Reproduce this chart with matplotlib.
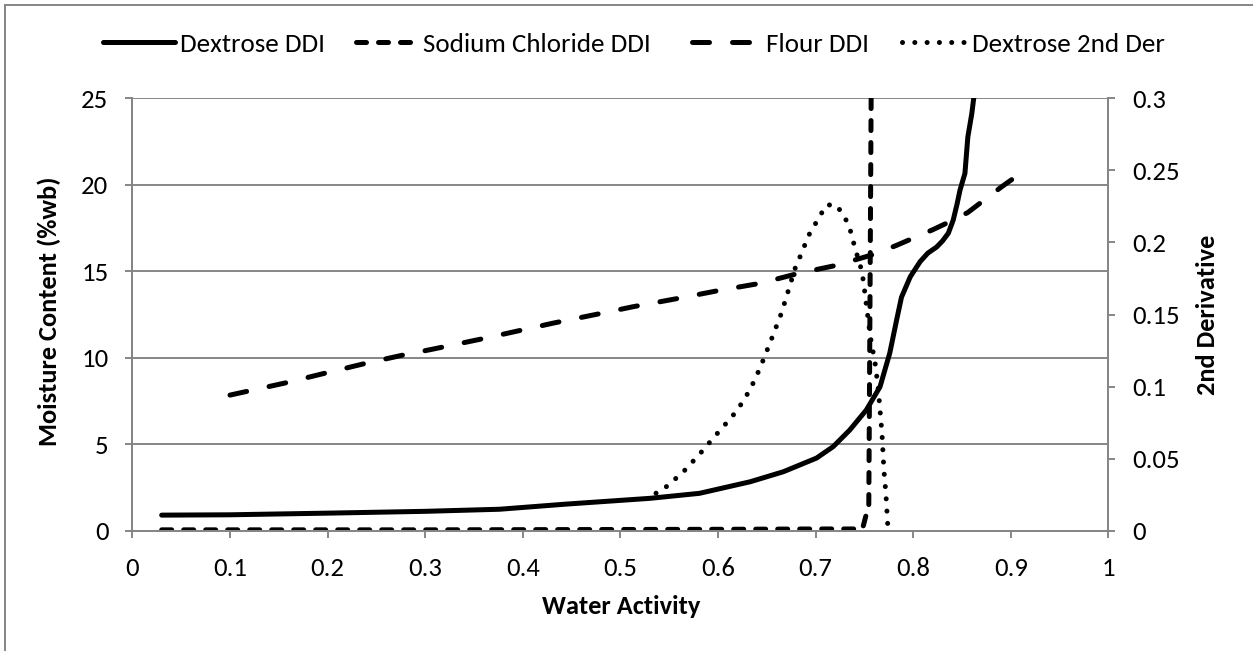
import matplotlib
matplotlib.use("Agg")
import matplotlib.pyplot as plt
from matplotlib.lines import Line2D
from matplotlib import font_manager

_names = {f.name for f in font_manager.fontManager.ttflist}
FONT = 'Carlito' if 'Carlito' in _names else 'Lato'
plt.rcParams['font.family'] = [FONT, 'DejaVu Sans']

# ---- data ----
dex_aw = [0.03, 0.10, 0.205, 0.30, 0.376, 0.445, 0.53, 0.581, 0.633, 0.667, 0.701,
          0.718, 0.735, 0.752, 0.766, 0.776, 0.783, 0.788, 0.797, 0.807, 0.815,
          0.824, 0.830, 0.836, 0.841, 0.845, 0.848, 0.853, 0.856, 0.860, 0.862, 0.866]
dex_mc = [0.9, 0.92, 1.02, 1.12, 1.24, 1.54, 1.87, 2.16, 2.83, 3.41, 4.2,
          4.86, 5.82, 6.98, 8.32, 10.27, 12.18, 13.5, 14.68, 15.55, 16.05,
          16.4, 16.75, 17.2, 17.96, 18.9, 19.7, 20.66, 22.77, 24.1, 25.0, 27.0]

nacl_aw = [0.03, 0.10, 0.20, 0.30, 0.40, 0.50, 0.60, 0.70, 0.748, 0.7545, 0.7552,
           0.7558, 0.7564, 0.757, 0.7575]
nacl_mc = [0.05, 0.05, 0.05, 0.05, 0.06, 0.07, 0.08, 0.10, 0.10, 1.5, 8.0,
           14.0, 20.0, 26.0, 32.0]

flour_aw = [0.10, 0.158, 0.199, 0.24, 0.277, 0.308, 0.359, 0.431, 0.479, 0.513,
            0.561, 0.602, 0.643, 0.684, 0.722, 0.761, 0.783, 0.82, 0.841, 0.856,
            0.891, 0.905]
flour_mc = [7.84, 8.56, 9.13, 9.69, 10.15, 10.5, 11.1, 12.0, 12.55, 12.95,
            13.45, 13.9, 14.3, 14.9, 15.35, 16.0, 16.5, 17.4, 17.96, 18.4,
            19.9, 20.46]

der_aw = [0.5365, 0.547, 0.564, 0.581, 0.597, 0.612, 0.62, 0.633, 0.643, 0.656,
          0.665, 0.679, 0.684, 0.693, 0.705, 0.711, 0.721, 0.728, 0.734, 0.737,
          0.74, 0.747, 0.749, 0.756, 0.761, 0.764, 0.766, 0.768, 0.770, 0.772, 0.774]
der_val = [0.026, 0.0305, 0.0405, 0.053, 0.0657, 0.0773, 0.0838, 0.098, 0.1127, 0.135,
           0.151, 0.182, 0.19, 0.205, 0.219, 0.226, 0.226, 0.2196, 0.212, 0.205,
           0.197, 0.181, 0.173, 0.135, 0.116, 0.0999, 0.0838, 0.0676, 0.042, 0.026, 0.003]

x_ticks = [0, 0.1, 0.2, 0.3, 0.4, 0.5, 0.6, 0.7, 0.8, 0.9, 1]
x_labels = ['0', '0.1', '0.2', '0.3', '0.4', '0.5', '0.6', '0.7', '0.8', '0.9', '1']
y_ticks = [0, 5, 10, 15, 20, 25]
y2_ticks = [0, 0.05, 0.1, 0.15, 0.2, 0.25, 0.3]
y2_labels = ['0', '0.05', '0.1', '0.15', '0.2', '0.25', '0.3']

# ---- figure ----
W, H = 1253, 651
DPI = 100
PX = 72 / DPI  # points per pixel
fig = plt.figure(figsize=(W / DPI, H / DPI), dpi=DPI)
renderer = fig.canvas.get_renderer()


def text_w(s, fs, weight='normal'):
    t = fig.text(0, 0, s, fontsize=fs, fontweight=weight)
    w = t.get_window_extent(renderer).width
    t.remove()
    return w


base = 26.5 * PX
fs_leg = base * 228 / text_w('Sodium Chloride DDI', base)
fs_tick = base * 47 / text_w('0.25', base)
fs_lab = base * 158 / text_w('Water Activity', base, 'bold')

GRAY = '#868686'
# outer chart border (only top and left edges are inside the picture)
fig.add_artist(Line2D([5 / W, 5 / W], [0, 1 - 5 / H], transform=fig.transFigure,
                      color=GRAY, lw=1.4))
fig.add_artist(Line2D([5 / W, 1], [1 - 5 / H, 1 - 5 / H], transform=fig.transFigure,
                      color=GRAY, lw=1.4))

ax = fig.add_axes([132.4 / W, 1 - 530.7 / H, (1108.4 - 132.4) / W, (530.7 - 98.3) / H])
ax2 = ax.twinx()

lw = 5 * PX

l1, = ax.plot(dex_aw, dex_mc, color='black', lw=lw, solid_capstyle='round',
              solid_joinstyle='round', label='Dextrose DDI')
l2, = ax.plot(nacl_aw, nacl_mc, color='black', lw=lw, dashes=(2.0, 2.4),
              dash_capstyle='round', label='Sodium Chloride DDI')
l3, = ax.plot(flour_aw, flour_mc, color='black', lw=lw, dashes=(3.4, 4.6),
              dash_capstyle='round', label='Flour DDI')
dot_lw = 5 * PX
l4, = ax2.plot(der_aw, der_val, color='black', lw=dot_lw, dashes=(0.01, 2.45),
               dash_capstyle='round', label='Dextrose 2nd Der')

ax.set_xlim(0, 1)
ax.set_ylim(0, 25)
ax2.set_ylim(0, 0.3)
ax.set_xticks(x_ticks)
ax.set_xticklabels(x_labels)
ax.set_yticks(y_ticks)
ax2.set_yticks(y2_ticks)
ax2.set_yticklabels(y2_labels)

ax.yaxis.grid(True, color=GRAY, lw=1.4)
ax.set_axisbelow(True)

for a in (ax, ax2):
    a.spines['top'].set_visible(False)
    for s in ('left', 'right', 'bottom'):
        a.spines[s].set_color(GRAY)
        a.spines[s].set_linewidth(1.4)
    a.tick_params(axis='both', colors=GRAY, labelcolor='black', labelsize=fs_tick,
                  length=7 * PX, width=1.4, direction='out')
ax.tick_params(axis='y', pad=17 * PX)
ax.xaxis.set_tick_params(pad=19 * PX)
ax2.tick_params(axis='y', pad=17 * PX)

ax.set_xlabel('Water Activity', fontsize=fs_lab, fontweight='bold', va='center')
ax.xaxis.set_label_coords(0.501, (530.7 - 606) / 432.4)
ax.set_ylabel('Moisture Content (%wb)', fontsize=fs_lab, fontweight='bold',
              va='center', ha='center')
ax.yaxis.set_label_coords((49 - 132.4) / 976, (530.7 - 311) / 432.4)
ax2.set_ylabel('2nd Derivative', fontsize=fs_lab, fontweight='bold',
               va='center', ha='center', rotation=90)
ax2.yaxis.set_label_coords((1207 - 132.4) / 976, (530.7 - 315) / 432.4)

# legend entries: (handle, handle start px, handle length px, text start px)
leg_specs = [(l1, 103, 72, 180), (l2, 356, 61, 423), (l3, 692, 58, 766), (l4, 902, 63, 972)]
fs_leg_px = fs_leg / PX
for h, x0, hl, tx in leg_specs:
    fig.legend(handles=[h], loc='center left', bbox_to_anchor=(x0 / W, 1 - 44 / H),
               frameon=False, fontsize=fs_leg, borderpad=0, borderaxespad=0,
               handlelength=hl / fs_leg_px, handletextpad=(tx - x0 - hl) / fs_leg_px)

fig.savefig('out.png', dpi=DPI)
